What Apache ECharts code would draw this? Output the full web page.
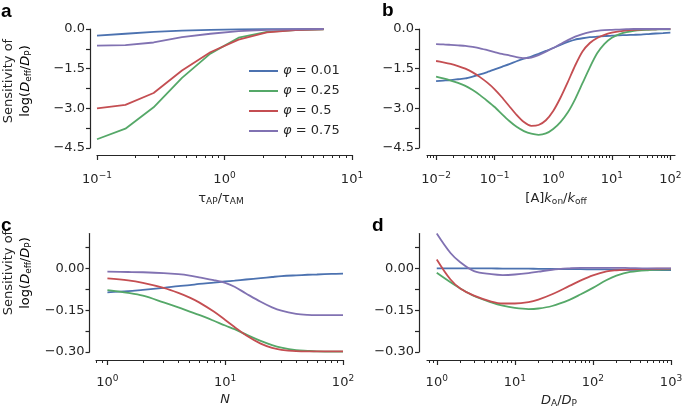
<!DOCTYPE html>
<html><head><meta charset="utf-8">
<script src="https://cdn.jsdelivr.net/npm/echarts@6/dist/echarts.min.js"></script>
<style>html,body{margin:0;padding:0;background:#fff}#c{width:685px;height:411px}</style>
</head><body><div id="c"></div>
<script>
// ---------- data ----------
const seriesNames = ['φ = 0.01', 'φ = 0.25', 'φ = 0.5', 'φ = 0.75'];

// panel a : tau_AP / tau_AM
const aX      = [0.1, 0.167, 0.278, 0.464, 0.774, 1.29, 2.15, 3.59, 5.99];
const aBlue   = [-0.25, -0.18, -0.11, -0.06, -0.03, -0.015, -0.01, -0.005, 0];
const aGreen  = [-4.17, -3.77, -2.96, -1.85, -0.93, -0.33, -0.11, -0.04, -0.01];
const aRed    = [-3.0, -2.87, -2.42, -1.57, -0.88, -0.40, -0.13, -0.04, -0.01];
const aPurple = [-0.63, -0.61, -0.51, -0.31, -0.18, -0.08, -0.03, -0.01, 0];

// panel b : [A] k_on / k_off
const bX      = [0.01, 0.0133, 0.0178, 0.0237, 0.0316, 0.0422, 0.0562, 0.075, 0.1, 0.133, 0.178, 0.237, 0.316, 0.422, 0.562, 0.75,
                 1, 1.33, 1.78, 2.37, 3.16, 4.22, 5.62, 7.5, 10, 13.3, 17.8, 23.7, 31.6, 42.2, 56.2, 75, 100];
const bBlue   = [-1.97, -1.95, -1.93, -1.90, -1.87, -1.80, -1.72, -1.63, -1.53, -1.43, -1.33, -1.22, -1.12, -1.04, -0.94, -0.83,
                 -0.72, -0.60, -0.49, -0.40, -0.35, -0.31, -0.29, -0.27, -0.25, -0.24, -0.23, -0.22, -0.21, -0.19, -0.17, -0.155, -0.14];
const bGreen  = [-1.80, -1.87, -1.95, -2.04, -2.15, -2.31, -2.50, -2.72, -2.95, -3.22, -3.48, -3.70, -3.86, -3.96, -4.00, -3.95,
                 -3.78, -3.52, -3.15, -2.65, -2.05, -1.45, -0.92, -0.56, -0.33, -0.20, -0.12, -0.07, -0.04, -0.03, -0.02, -0.01, -0.01];
const bRed    = [-1.21, -1.26, -1.32, -1.40, -1.50, -1.64, -1.82, -2.03, -2.28, -2.58, -2.92, -3.25, -3.52, -3.66, -3.63, -3.45,
                 -3.10, -2.60, -2.00, -1.38, -0.85, -0.53, -0.34, -0.22, -0.14, -0.09, -0.05, -0.03, -0.02, -0.01, -0.01, 0, 0];
const bPurple = [-0.57, -0.58, -0.60, -0.62, -0.64, -0.68, -0.73, -0.80, -0.87, -0.94, -1.00, -1.06, -1.10, -1.08, -0.99, -0.86,
                 -0.72, -0.57, -0.42, -0.29, -0.19, -0.12, -0.07, -0.04, -0.03, -0.02, -0.01, 0, 0, 0, 0, 0, 0];

// panel c : N
const cX      = [1, 1.5, 2, 3, 4, 5, 6, 8, 10, 12, 15, 20, 25, 30, 40, 50, 60, 80, 100];
const cBlue   = [-0.086, -0.082, -0.077, -0.070, -0.064, -0.060, -0.056, -0.051, -0.047, -0.044, -0.040, -0.035, -0.031, -0.028, -0.025, -0.023, -0.022, -0.020, -0.019];
const cGreen  = [-0.078, -0.088, -0.098, -0.122, -0.140, -0.155, -0.167, -0.188, -0.205, -0.218, -0.237, -0.260, -0.275, -0.284, -0.293, -0.296, -0.298, -0.299, -0.299];
const cRed    = [-0.036, -0.043, -0.052, -0.070, -0.088, -0.105, -0.122, -0.155, -0.185, -0.210, -0.240, -0.270, -0.285, -0.292, -0.297, -0.298, -0.298, -0.298, -0.298];
const cPurple = [-0.012, -0.013, -0.014, -0.017, -0.021, -0.026, -0.032, -0.042, -0.052, -0.066, -0.090, -0.120, -0.140, -0.152, -0.163, -0.167, -0.168, -0.168, -0.168];

// panel d : D_A / D_P
const dX      = [1, 1.5, 2, 3, 5, 7, 10, 15, 20, 30, 50, 70, 100, 150, 200, 300, 500, 1000];
const dBlue   = [0, 0, 0, 0, 0, -0.001, -0.001, -0.001, -0.002, -0.002, -0.003, -0.003, -0.004, -0.004, -0.005, -0.005, -0.005, -0.006];
const dGreen  = [-0.016, -0.050, -0.072, -0.099, -0.122, -0.134, -0.142, -0.146, -0.144, -0.135, -0.113, -0.093, -0.070, -0.042, -0.026, -0.013, -0.007, -0.004];
const dRed    = [0.032, -0.040, -0.072, -0.098, -0.119, -0.126, -0.126, -0.121, -0.112, -0.093, -0.063, -0.043, -0.025, -0.011, -0.007, -0.004, -0.002, -0.001];
const dPurple = [0.125, 0.055, 0.022, -0.010, -0.021, -0.024, -0.022, -0.017, -0.012, -0.005, 0, 0.002, 0.002, 0.002, 0.002, 0.001, 0, 0];

// ticks
const aXMajor = [0.1, 1, 10];
const bXMajor = [0.01, 0.1, 1, 10, 100];
const cXMajor = [1, 10, 100];
const dXMajor = [1, 10, 100, 1000];
const abYTicks  = [-4.5, -3.75, -3, -2.25, -1.5, -0.75, 0];
const abYLabels = [-4.5, -3, -1.5, 0];
const cdYTicks  = [-0.3, -0.225, -0.15, -0.075, 0, 0.075];
const cdYLabels = [-0.3, -0.15, 0];

// ---------- styling ----------
const colors = ['#4C72B0', '#55A868', '#C44E52', '#8172B2'];
const FONT = 'DejaVu Sans';
const INK = '#262626';

function minorTicks(lo, hi) {
  const out = [];
  for (let e = -3; e <= 3; e++) {
    for (let k = 2; k <= 9; k++) {
      const v = k * Math.pow(10, e);
      if (v >= lo * 0.999 && v <= hi * 1.001) out.push(+v.toPrecision(6));
    }
  }
  return out;
}
function supFmt(v) {
  const e = Math.round(Math.log10(v));
  return '10{sup|' + (e < 0 ? '−' + (-e) : String(e)) + '}';
}
function yFmt(dec) {
  return function (v) {
    if (Math.abs(v) < 1e-9) return (0).toFixed(dec);
    return (v < 0 ? '−' : '') + Math.abs(v).toFixed(dec);
  };
}
const subRich = {
  i: { fontFamily: FONT, fontStyle: 'italic', fontSize: 13, color: INK },
  t: { fontFamily: FONT, fontSize: 13, color: INK },
  sub: { fontFamily: FONT, fontSize: 9, color: INK, padding: [6, 0, 0, 0] }
};

const panels = [
  { X: aX, Y: [aBlue, aGreen, aRed, aPurple], grid: { left: 97, top: 29, width: 255, height: 119 },
    xmin: 0.1, xmax: 10, major: aXMajor, ymin: -4.5, ymax: 0, yt: abYTicks, yl: abYLabels, dec: 1, smooth: false,
    yOff: 7, xOff: 7, lblMargin: 16, name: '{t|τ}{sub|AP}{t|/τ}{sub|AM}', nameGap: 36, namePad: [0, 7, 0, 0] },
  { X: bX, Y: [bBlue, bGreen, bRed, bPurple], grid: { left: 427, top: 29, width: 248, height: 119 },
    xmin: 0.007, xmax: 120, major: bXMajor, ymin: -4.5, ymax: 0, yt: abYTicks, yl: abYLabels, dec: 1, smooth: 0.2,
    yOff: 8, xOff: 7, lblMargin: 16, name: '{t|[A]}{i|k}{sub|on}{t|/}{i|k}{sub|off}', nameGap: 36, namePad: [0, 0, 0, 10] },
  { X: cX, Y: [cBlue, cGreen, cRed, cPurple], grid: { left: 96, top: 233.5, width: 247, height: 118.5 },
    xmin: 0.8, xmax: 100, major: cXMajor, ymin: -0.3, ymax: 0.125, yt: cdYTicks, yl: cdYLabels, dec: 2, smooth: 0.35,
    yOff: 6.5, xOff: 8, lblMargin: 14, name: '{i|N}', nameGap: 33, namePad: [0, 0, 0, 11] },
  { X: dX, Y: [dBlue, dGreen, dRed, dPurple], grid: { left: 427, top: 233.5, width: 244, height: 118.5 },
    xmin: 0.75, xmax: 1000, major: dXMajor, ymin: -0.3, ymax: 0.125, yt: cdYTicks, yl: cdYLabels, dec: 2, smooth: 0.35,
    yOff: 8, xOff: 8, lblMargin: 14, name: '{i|D}{sub|A}{t|/}{i|D}{sub|P}', nameGap: 33, namePad: [0, 0, 0, 20] }
];

const grids = [], xAxes = [], yAxes = [], series = [];
// main grids 0..3
panels.forEach((p, i) => {
  grids.push(Object.assign({ containLabel: false, outerBoundsMode: 'none' }, p.grid));
  xAxes.push({
    type: 'log', logBase: 10, gridIndex: i, min: p.xmin, max: p.xmax, position: 'bottom', offset: p.xOff,
    axisLine: { show: true, onZero: false, lineStyle: { color: INK, width: 1.2 } },
    axisTick: { show: true, length: 5, customValues: p.major, lineStyle: { color: INK, width: 1.2 } },
    axisLabel: { customValues: p.major, formatter: supFmt, margin: p.lblMargin, color: INK, fontFamily: FONT, fontSize: 13,
      rich: { sup: { fontFamily: FONT, fontSize: 9, color: INK, padding: [0, 0, 8, 0] } } },
    splitLine: { show: false }, minorTick: { show: false },
    name: p.name, nameLocation: 'middle', nameGap: p.nameGap,
    nameTextStyle: { fontFamily: FONT, fontSize: 13, color: INK, padding: p.namePad, rich: subRich }
  });
  yAxes.push({
    type: 'value', gridIndex: i, min: p.ymin, max: p.ymax, position: 'left', offset: p.yOff,
    axisLine: { show: true, onZero: false, lineStyle: { color: INK, width: 1.2 } },
    axisTick: { show: true, length: 4, customValues: p.yt, lineStyle: { color: INK, width: 1.2 } },
    axisLabel: { customValues: p.yl, formatter: yFmt(p.dec), margin: 5, color: INK, fontFamily: FONT, fontSize: 13 },
    splitLine: { show: false }
  });
  p.Y.forEach((ys, k) => {
    series.push({
      type: 'line', name: seriesNames[k], xAxisIndex: i, yAxisIndex: i,
      data: p.X.map((x, j) => [x, ys[j]]),
      smooth: p.smooth, symbol: 'none', showSymbol: false,
      lineStyle: { color: colors[k], width: 1.8 }, itemStyle: { color: colors[k] },
      emphasis: { disabled: true }, animation: false
    });
  });
});
// overlay grids 4..7 carrying the minor log ticks
panels.forEach((p, i) => {
  grids.push(Object.assign({ containLabel: false, outerBoundsMode: 'none' }, p.grid));
  xAxes.push({
    type: 'log', logBase: 10, gridIndex: 4 + i, min: p.xmin, max: p.xmax, position: 'bottom', offset: p.xOff,
    axisLine: { show: false, onZero: false },
    axisTick: { show: true, length: 3, customValues: minorTicks(p.xmin, p.xmax), lineStyle: { color: INK, width: 1 } },
    axisLabel: { show: false }, splitLine: { show: false }
  });
  yAxes.push({ type: 'value', gridIndex: 4 + i, min: p.ymin, max: p.ymax, show: false });
});

const panelLabel = (txt, x, y) => ({ type: 'text', x: x, y: y,
  style: { text: txt, font: 'bold 19px "Liberation Sans", Arial, sans-serif', fill: '#000', textVerticalAlign: 'top' } });
const yTitle = (x1, x2, cy) => [
  { type: 'text', x: x1, y: cy, rotation: Math.PI / 2,
    style: { text: 'Sensitivity of', fontFamily: FONT, fontSize: 13, fill: INK, textAlign: 'center', textVerticalAlign: 'middle' } },
  { type: 'text', x: x2, y: cy, rotation: Math.PI / 2,
    style: { text: '{t|log(}{i|D}{sub|eff}{t|/}{i|D}{sub|P}{t|)}', rich: subRich, textAlign: 'center', textVerticalAlign: 'middle' } }
];

const chart = echarts.init(document.getElementById('c'), null, { renderer: 'canvas' });
chart.setOption({
  backgroundColor: '#ffffff',
  animation: false,
  color: colors,
  grid: grids,
  xAxis: xAxes,
  yAxis: yAxes,
  series: series,
  legend: {
    show: true, orient: 'vertical', left: 243, top: 59, itemWidth: 29, itemHeight: 2, itemGap: 6,
    data: seriesNames, selectedMode: false,
    formatter: n => '{i|φ}' + n.slice(1),
    textStyle: { fontFamily: FONT, fontSize: 13, color: INK, lineHeight: 14,
      rich: { i: { fontFamily: FONT, fontStyle: 'italic', fontSize: 13, color: INK, lineHeight: 14 } } }
  },
  graphic: [
    panelLabel('a', 1, 2), panelLabel('b', 382, 1), panelLabel('c', 1, 216), panelLabel('d', 372, 216),
    ...yTitle(9, 26, 81), ...yTitle(9, 26, 273)
  ]
});
</script>
</body></html>
